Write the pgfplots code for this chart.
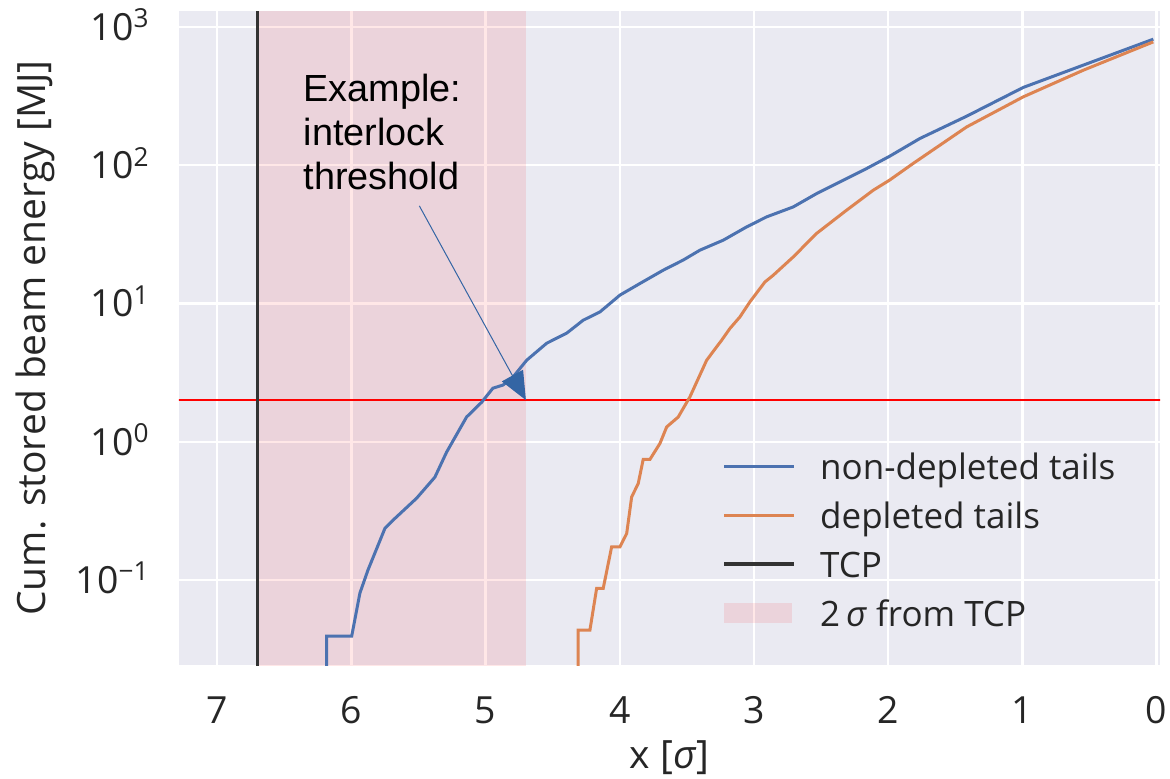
\documentclass[border=0pt]{standalone}
\usepackage{fontspec}
\setmainfont{Open Sans}
\newfontfamily\annofont{Liberation Sans}
\usepackage{pgfplots}
\pgfplotsset{compat=1.18}
\usetikzlibrary{arrows.meta}

\definecolor{bg}{RGB}{234,234,242}
\definecolor{c0}{RGB}{76,114,176}
\definecolor{c1}{RGB}{221,132,82}
\definecolor{tcp}{RGB}{51,51,51}
\definecolor{txt}{RGB}{38,38,38}
\definecolor{arrowblue}{RGB}{52,101,164}

\begin{document}
\begin{tikzpicture}
\begin{axis}[at={(0,0)},anchor=south west,scale only axis,width=490.5pt,height=327pt,
  ymode=log,x dir=reverse,xmin=-0.025,xmax=7.285,ymin=0.0243,ymax=1303,
  xtick={0,1,2,3,4,5,6,7},ytick={0.1,1,10,100,1000},
  yticklabels={10\textsuperscript{−1},10\textsuperscript{0},10\textsuperscript{1},10\textsuperscript{2},10\textsuperscript{3}},
  /pgf/number format/assume math mode=true,
  axis line style={draw=none},major tick length=0pt,minor tick length=0pt,
  grid=major,major grid style={white,line width=1.2pt},
  axis background/.style={fill=bg},
  ticklabel style={font=\fontsize{18.7}{22}\selectfont,text=txt,inner sep=0pt},
  xticklabel style={anchor=base,yshift=-29.2pt},
  yticklabel style={anchor=base east,xshift=-14.5pt,yshift=-6.7pt},
  xlabel={x [\textit{σ}]},ylabel={Cum. stored beam energy [MJ]},
  label style={font=\fontsize{19.5}{22}\selectfont,text=txt,inner sep=0pt},
  xlabel style={at={([yshift=-51.5pt]axis description cs:0.5,0)},anchor=base},
  ylabel style={at={([xshift=-66.5pt]axis description cs:0,0.5)},anchor=base},
  legend style={at={(axis description cs:0.5538,0.3376)},anchor=north west,draw=none,fill=none,
    font=\fontsize{17.5}{21}\selectfont,text=txt,inner sep=0pt,row sep=2.8pt,column sep=12pt,
    nodes={inner sep=0pt,text height=17.6pt,text depth=4pt}},
  legend cell align=left,
  legend image code/.code={\draw[#1] (0pt,0pt) -- (35pt,0pt);},
]
% 2 sigma band
\addplot[draw=none,fill=red,fill opacity=0.094,forget plot] coordinates {(6.7,0.001) (4.7,0.001) (4.7,10000) (6.7,10000)} -- cycle;
% interlock threshold
\addplot[red,line width=0.7pt,forget plot] coordinates {(-1,2) (8,2)};
\addplot[c0,line width=1.5pt,forget plot] coordinates {
(6.185,0.005) (6.185,0.0393) (5.998,0.0393) (5.937,0.0804) (5.877,0.118) (5.750,0.237)
(5.690,0.271) (5.514,0.391) (5.378,0.555) (5.291,0.841) (5.142,1.51) (5.030,1.93)
(4.946,2.44) (4.871,2.57) (4.797,2.93) (4.694,3.89) (4.545,5.16) (4.396,6.10)
(4.273,7.57) (4.148,8.69) (3.999,11.5) (3.850,13.95) (3.677,17.4) (3.528,20.6)
(3.403,24.3) (3.229,28.7) (3.055,35.8) (2.906,42.3) (2.708,49.9) (2.534,62.3)
(2.360,75.7) (2.161,94.6) (1.990,116) (1.764,156) (1.416,226) (0.994,365)
(0.547,529) (0.025,815)};
\addplot[c1,line width=1.5pt,forget plot] coordinates {
(4.310,0.005) (4.310,0.0434) (4.223,0.0434) (4.173,0.0869) (4.124,0.0869) (4.061,0.174)
(3.999,0.174) (3.949,0.217) (3.912,0.399) (3.863,0.499) (3.826,0.745) (3.776,0.745)
(3.701,0.973) (3.651,1.28) (3.565,1.51) (3.478,2.11) (3.353,3.89) (3.279,4.85)
(3.241,5.43) (3.180,6.59) (3.105,8.0) (3.030,10.3) (2.919,14.3) (2.857,16.0)
(2.708,21.7) (2.534,32.1) (2.310,47.3) (2.112,65.9) (1.990,78) (1.814,103)
(1.416,189) (0.994,312) (0.547,486) (0.025,779)};
\addplot[tcp,line width=1.75pt,forget plot] coordinates {(6.7,0.001) (6.7,10000)};
\addlegendimage{c0,line width=1.5pt}
\addlegendentry{non-depleted tails}
\addlegendimage{c1,line width=1.5pt}
\addlegendentry{depleted tails}
\addlegendimage{tcp,line width=1.75pt}
\addlegendentry{TCP}
\addlegendimage{legend image code/.code={\path[draw=none,fill=red,fill opacity=0.094] (0pt,-5pt) rectangle (34pt,5pt);}}
\addlegendentry{2\,\textit{σ} from TCP}
\node[anchor=north west,inner sep=0pt,align=left,text=black,font=\fontsize{18.9}{22}\selectfont\annofont]
  at (axis cs:6.359,460) {Example:\\interlock\\threshold};
\draw[arrowblue,line width=0.5pt,-{Triangle[length=14pt,width=12pt]}] (axis cs:5.494,50.8) -- (axis cs:4.7,2);
\end{axis}
\pgfresetboundingbox
\useasboundingbox (-89.5pt,-56.5pt) rectangle (495.5pt,332.5pt);
\end{tikzpicture}
\end{document}
